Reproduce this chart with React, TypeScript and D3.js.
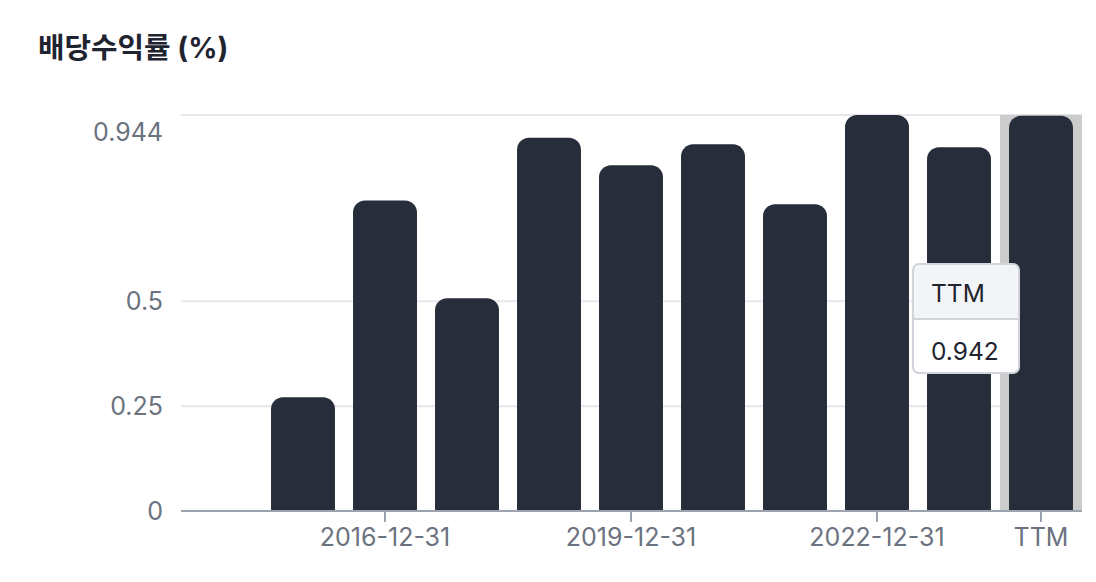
import React from "react";
import * as d3 from "d3";

const categories = [
  "2014-12-31", "2015-12-31", "2016-12-31", "2017-12-31", "2018-12-31",
  "2019-12-31", "2020-12-31", "2021-12-31", "2022-12-31", "2023-12-31", "TTM",
];
const values: (number | null)[] = [null, 0.271, 0.74, 0.507, 0.89, 0.824, 0.874, 0.731, 0.944, 0.867, 0.942];
const yTicks = [0, 0.25, 0.5, 0.944];
const xTickLabels = ["2016-12-31", "2019-12-31", "2022-12-31", "TTM"];
const title = "배당수익률 (%)";
const hovered = "TTM";

const W = 1096;
const H = 582;
const FONT = "Inter, 'Noto Sans CJK KR', sans-serif";

function topRoundedRect(x: number, y: number, w: number, h: number, r: number) {
  const rr = Math.min(r, w / 2, h);
  const p = d3.path();
  p.moveTo(x, y + h);
  p.lineTo(x, y + rr);
  p.arcTo(x, y, x + rr, y, rr);
  p.lineTo(x + w - rr, y);
  p.arcTo(x + w, y, x + w, y + rr, rr);
  p.lineTo(x + w, y + h);
  p.closePath();
  return p.toString();
}

export default function App() {
  const x = d3.scaleBand<string>().domain(categories).range([180, 1082]).paddingInner(0.22).paddingOuter(0.11);
  const y = d3.scaleLinear().domain([0, 0.944]).range([511, 115]);
  const hx = x(hovered)!;
  const hStep = x.step();
  const hIdx = categories.indexOf(hovered);
  const hVal = values[hIdx] as number;
  const yMax = yTicks[yTicks.length - 1];

  const tipX = 913, tipY = 264, tipW = 106, tipH = 109, headH = 55;

  return (
    <svg width={W} height={H} style={{ position: "absolute", left: 0, top: 0, background: "#fff" }} fontFamily={FONT}>
      <text x={38} y={58} fontSize={28.8} fontWeight={700} fill="#1f2430">{title}</text>

      {/* gridlines */}
      {yTicks.filter((t) => t !== 0).map((t) => (
        <line key={t} x1={181} x2={1082} y1={y(t)} y2={y(t)} stroke="#e5e7eb" strokeWidth={2} />
      ))}
      {yTicks.map((t) => (
        <text key={"l" + t} x={163} y={t === yMax ? y(t) + 17 : y(t)} dy="0.36em" textAnchor="end" fontSize={25} fill="#6b7280">{String(t)}</text>
      ))}

      {/* hover band */}
      <rect x={hx - (hStep - x.bandwidth()) / 2} y={y(yMax)} width={hStep} height={y(0) - y(yMax)} fill="#cccccc" />

      {/* bars */}
      {categories.map((c, i) => {
        const v = values[i];
        if (v == null) return null;
        const bx = x(c)!;
        return <path key={c} d={topRoundedRect(bx, y(v), x.bandwidth(), y(0) - y(v), 12)} fill="#272d3a" />;
      })}

      {/* axis */}
      <line x1={181} x2={1082} y1={y(0)} y2={y(0)} stroke="#9ca3af" strokeWidth={2} />
      {xTickLabels.map((c) => {
        const cx = x(c)! + x.bandwidth() / 2;
        return (
          <g key={c}>
            <line x1={cx} x2={cx} y1={y(0)} y2={y(0) + 11} stroke="#9ca3af" strokeWidth={2} />
            <text x={cx} y={546} textAnchor="middle" fontSize={25} fill="#6b7280">{c}</text>
          </g>
        );
      })}

      {/* tooltip */}
      <g>
        <defs>
          <clipPath id="tipclip">
            <rect x={tipX} y={tipY} width={tipW} height={tipH} rx={6} />
          </clipPath>
        </defs>
        <rect x={tipX} y={tipY} width={tipW} height={tipH} rx={6} fill="#ffffff" />
        <rect x={tipX} y={tipY} width={tipW} height={headH} fill="#f3f4f6" clipPath="url(#tipclip)" />
        <line x1={tipX} x2={tipX + tipW} y1={tipY + headH} y2={tipY + headH} stroke="#d1d5db" strokeWidth={2} />
        <rect x={tipX} y={tipY} width={tipW} height={tipH} rx={6} fill="none" stroke="#d1d5db" strokeWidth={2} />
        <text x={tipX + 18} y={tipY + 38} fontSize={24.5} fill="#1f2430">{hovered}</text>
        <text x={tipX + 18} y={tipY + 96} fontSize={24.5} fill="#1f2430">{hVal.toFixed(3)}</text>
      </g>
    </svg>
  );
}
